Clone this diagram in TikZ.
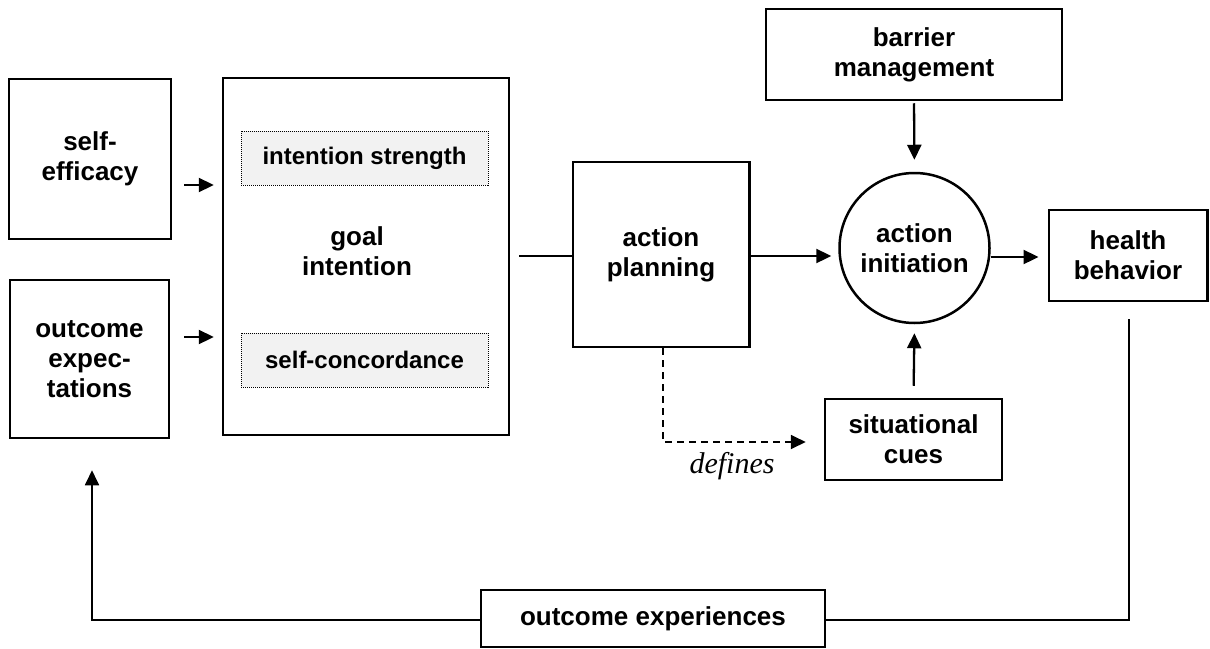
\documentclass[tikz,border=0pt]{standalone}
\usepackage{fontspec}
\setmainfont{Liberation Sans}
\newfontfamily\timesfont{Liberation Serif}
\usetikzlibrary{arrows.meta}
\definecolor{dotfill}{HTML}{F2F2F2}
\begin{document}
\begin{tikzpicture}[x=1pt,y=-1pt,
  box/.style={draw, line width=2.5pt, inner sep=0pt, align=center,
    font=\bfseries\fontsize{26}{30}\selectfont},
  subbox/.style={draw, densely dotted, line width=1pt, fill=dotfill, inner sep=0pt,
    minimum width=247pt, minimum height=54pt,
    font=\bfseries\fontsize{24}{28}\selectfont},
  lbl/.style={inner sep=0pt, align=center, font=\bfseries\fontsize{26}{30}\selectfont},
  tip/.style={-{Triangle[length=15pt,width=14pt]}},
  arr/.style={line width=2.3pt, tip},
  plain/.style={line width=2.3pt},
  fb/.style={line width=1.8pt},
]
\useasboundingbox (0,0) rectangle (1210,648);

\node[box, minimum width=162pt, minimum height=160pt] (se) at (90,159) {self-\\efficacy};
\node[box, minimum width=159pt, minimum height=158pt] (oe) at (89.5,359) {outcome\\expec-\\tations};
\node[box, minimum width=286pt, minimum height=357pt] (gi) at (366,256.5) {};
\node[lbl] (gitext) at (357,251) {goal\\intention};
\node[subbox] (is) at (364.5,158) {intention strength};
\node[subbox] (sc) at (364.5,360) {self-concordance};
\node[box, minimum width=176.5pt, minimum height=185pt] (ap) at (661,254.5) {action\\planning};
\node[box, circle, minimum size=150pt] (ai) at (914.5,248) {action\\initiation};
\node[box, minimum width=296pt, minimum height=91pt] (bm) at (914,54.5) {barrier\\management};
\node[box, minimum width=158.5pt, minimum height=91pt] (hb) at (1128,255.5) {health\\behavior};
\node[box, minimum width=177pt, minimum height=81pt] (cues) at (913.5,439.5) {situational\\cues};
\node[box, minimum width=344pt, minimum height=57pt] (ox) at (653,618.5) {outcome experiences};
\node[inner sep=0pt, font=\timesfont\itshape\fontsize{30}{34}\selectfont] (def) at (732,466) {defines};

\draw[arr, shorten <=12pt, shorten >=8pt] (se.east |- 0,185) -- (gi.west |- 0,185);
\draw[arr, shorten <=14pt, shorten >=8pt] (oe.east |- 0,337) -- (gi.west |- 0,337);
\draw[plain, shorten <=9pt] (gi.east |- 0,256) -- (ap.west |- 0,256);
\draw[arr, shorten >=7pt] (ap.east |- 0,256) -- (ai.west |- 0,256);
\draw[arr, shorten >=9pt] (ai.east |- 0,257) -- (hb.west |- 0,257);
\draw[arr, shorten <=2pt, shorten >=12pt] (bm.south) -- (ai.north);
\draw[arr, shorten <=12pt, shorten >=9pt] (cues.north) -- (ai.south);
\draw[line width=1.8pt, dash pattern=on 7pt off 5pt, tip, shorten >=18pt]
  ([xshift=2pt]ap.south) |- (cues.west |- 0,442);
\draw[fb] ([xshift=1pt,yshift=-17pt]hb.south) |- (ox.east |- 0,620);
\draw[fb, tip] (ox.west |- 0,620) -| ([xshift=2.5pt,yshift=-31pt]oe.south);
\end{tikzpicture}
\end{document}
